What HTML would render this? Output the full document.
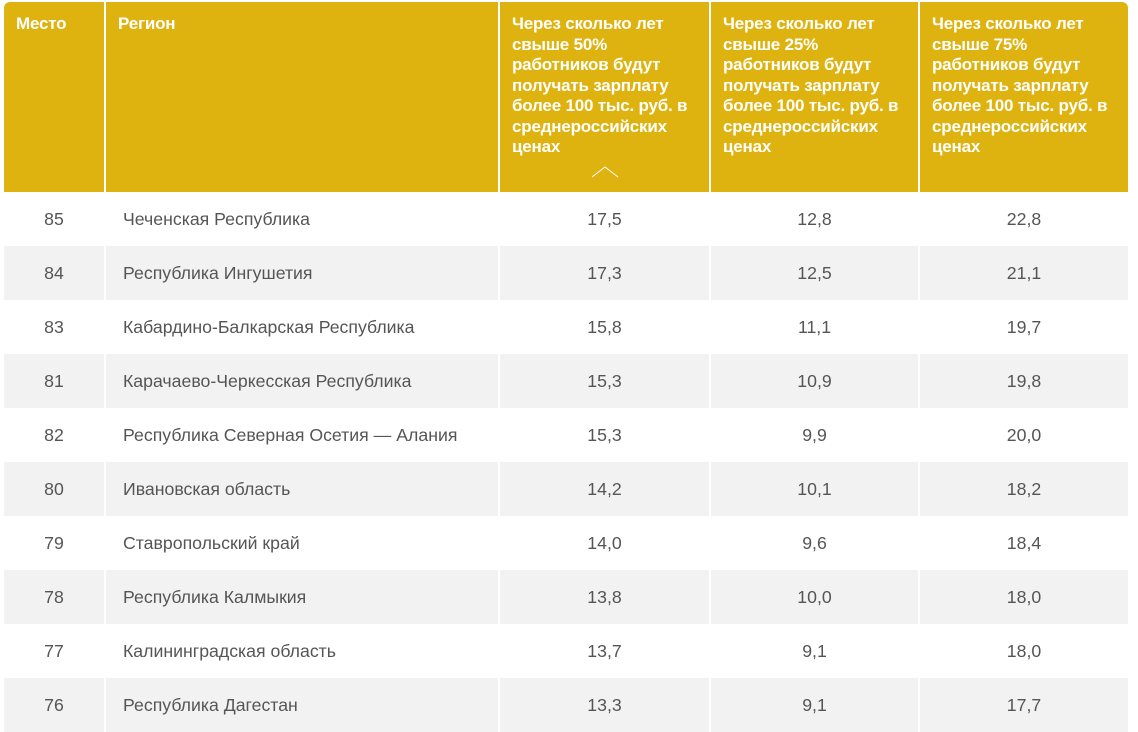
<!DOCTYPE html><html><head><meta charset="utf-8"><style>
body{margin:0;width:1138px;height:721px;overflow:hidden;background:#fff;font-family:"Liberation Sans",sans-serif;position:relative}
.h{position:absolute;top:2px;height:190px;background:#dfb30f;color:#fff;font-weight:bold;font-size:17px;line-height:20.5px;box-sizing:border-box;padding:12px 0 0 12px;letter-spacing:-0.2px;white-space:nowrap}
.r{position:absolute;left:4px;width:1124px;height:54px}
.c{position:absolute;top:0;height:54px;line-height:54px;color:#555;font-size:17.7px}
.g .c{background:#f2f2f2}
</style></head><body>
<div class="h" style="left:4px;width:100px;border-top-left-radius:6px">Место</div>
<div class="h" style="left:106px;width:392px">Регион</div>
<div class="h" style="left:500px;width:209px">Через сколько лет<br>свыше 50%<br>работников будут<br>получать зарплату<br>более 100 тыс. руб. в<br>среднероссийских<br>ценах
<svg style="position:absolute;left:91px;top:164px" width="28" height="12"><polyline points="1,11 14,1 27,11" fill="none" stroke="#fff" stroke-width="1"/></svg></div>
<div class="h" style="left:711px;width:207px">Через сколько лет<br>свыше 25%<br>работников будут<br>получать зарплату<br>более 100 тыс. руб. в<br>среднероссийских<br>ценах</div>
<div class="h" style="left:920px;width:208px;border-top-right-radius:6px">Через сколько лет<br>свыше 75%<br>работников будут<br>получать зарплату<br>более 100 тыс. руб. в<br>среднероссийских<br>ценах</div>
<div id="rows"></div>
<script>
var d=[["85","Чеченская Республика","17,5","12,8","22,8"],["84","Республика Ингушетия","17,3","12,5","21,1"],["83","Кабардино-Балкарская Республика","15,8","11,1","19,7"],["81","Карачаево-Черкесская Республика","15,3","10,9","19,8"],["82","Республика Северная Осетия — Алания","15,3","9,9","20,0"],["80","Ивановская область","14,2","10,1","18,2"],["79","Ставропольский край","14,0","9,6","18,4"],["78","Республика Калмыкия","13,8","10,0","18,0"],["77","Калининградская область","13,7","9,1","18,0"],["76","Республика Дагестан","13,3","9,1","17,7"]];
var h="";d.forEach(function(r,i){h+='<div class="r'+(i%2?' g':'')+'" style="top:'+(192+i*54)+'px">'+
'<div class="c" style="left:0;width:100px;text-align:center">'+r[0]+'</div>'+
'<div class="c" style="left:102px;width:392px;padding-left:17px;box-sizing:border-box">'+r[1]+'</div>'+
'<div class="c" style="left:496px;width:209px;text-align:center">'+r[2]+'</div>'+
'<div class="c" style="left:707px;width:207px;text-align:center">'+r[3]+'</div>'+
'<div class="c" style="left:916px;width:208px;text-align:center">'+r[4]+'</div></div>';});
document.getElementById("rows").innerHTML=h;
</script>
</body></html>
